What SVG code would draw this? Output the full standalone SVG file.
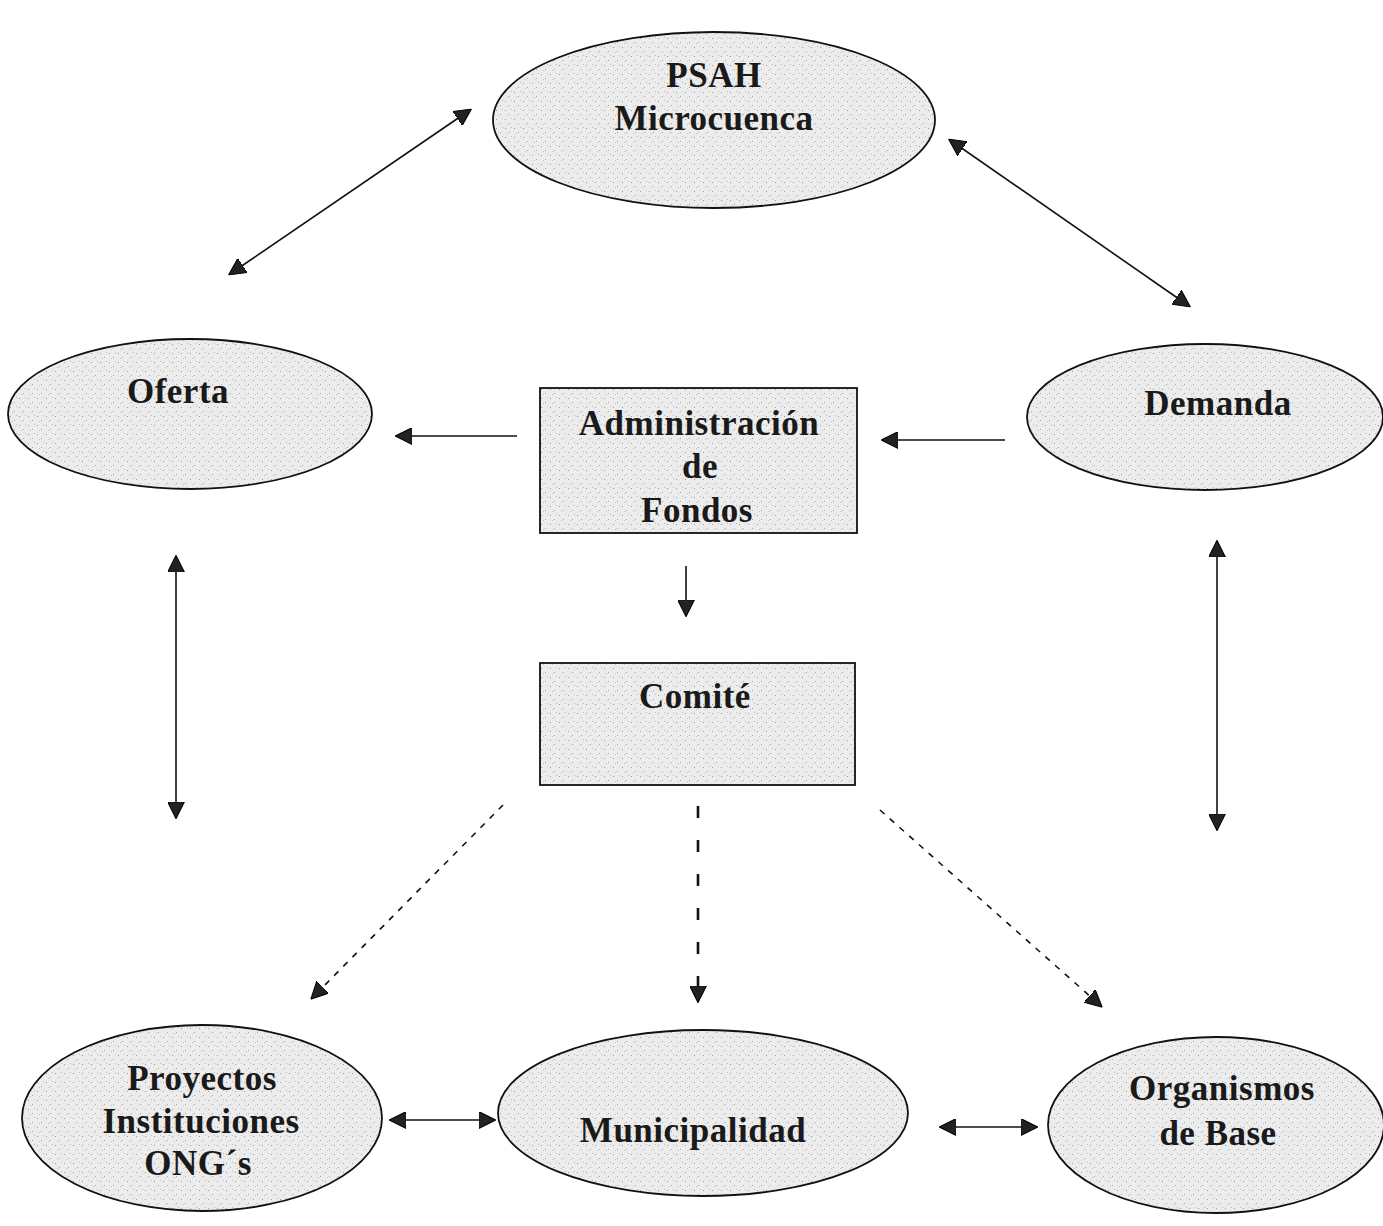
<svg xmlns="http://www.w3.org/2000/svg" width="1383" height="1226" viewBox="0 0 1383 1226">
<defs>
<pattern id="stip" width="9" height="9" patternUnits="userSpaceOnUse">
<rect width="9" height="9" fill="#ececec"/>
<rect x="1" y="2" width="1" height="1" fill="#9a9a9a"/>
<rect x="5" y="6" width="1" height="1" fill="#a8a8a8"/>
<rect x="7" y="1" width="1" height="1" fill="#bdbdbd"/>
<rect x="3" y="7" width="1" height="1" fill="#c4c4c4"/>
</pattern>
<marker id="ah" viewBox="0 0 10 10" refX="9" refY="5" markerWidth="17" markerHeight="17" markerUnits="userSpaceOnUse" orient="auto-start-reverse">
<path d="M0,0 L10,5 L0,10 Z" fill="#222" stroke="#000" stroke-width="0.6"/>
</marker>
</defs>
<style>
.node{fill:url(#stip);stroke:#111;stroke-width:1.8}
.lbl{font-family:"Liberation Serif","Times New Roman",serif;font-weight:bold;font-size:35px;fill:#1a1a1a;text-anchor:middle;letter-spacing:0.5px}
.c{stroke:#111;stroke-width:1.6;fill:none}
.d{stroke:#111;stroke-width:1.6;fill:none;stroke-dasharray:6 7}
.dm{stroke:#111;stroke-width:2.6;fill:none;stroke-dasharray:12 22}
</style>
<rect width="1383" height="1226" fill="#ffffff"/>
<g id="connectors">
<line class="c" x1="230" y1="274" x2="470" y2="110" marker-start="url(#ah)" marker-end="url(#ah)"/>
<line class="c" x1="950" y1="140" x2="1189" y2="306" marker-start="url(#ah)" marker-end="url(#ah)"/>
<line class="c" x1="517" y1="436" x2="397" y2="436" marker-end="url(#ah)"/>
<line class="c" x1="1005" y1="440" x2="883" y2="440" marker-end="url(#ah)"/>
<line class="c" x1="686" y1="566" x2="686" y2="615" marker-end="url(#ah)"/>
<line class="c" x1="176" y1="557" x2="176" y2="817" marker-start="url(#ah)" marker-end="url(#ah)"/>
<line class="c" x1="1217" y1="542" x2="1217" y2="829" marker-start="url(#ah)" marker-end="url(#ah)"/>
<line class="d" x1="503" y1="805" x2="312" y2="998" marker-end="url(#ah)"/>
<line class="dm" x1="698" y1="806" x2="698" y2="1001" marker-end="url(#ah)"/>
<line class="d" x1="880" y1="810" x2="1101" y2="1006" marker-end="url(#ah)"/>
<line class="c" x1="391" y1="1120" x2="494" y2="1120" marker-start="url(#ah)" marker-end="url(#ah)"/>
<line class="c" x1="941" y1="1127" x2="1036" y2="1127" marker-start="url(#ah)" marker-end="url(#ah)"/>
</g>
<g id="psah">
<ellipse class="node" cx="714" cy="120" rx="221" ry="88"/>
<text class="lbl" x="714" y="87">PSAH</text>
<text class="lbl" x="714" y="130">Microcuenca</text>
</g>
<g id="oferta">
<ellipse class="node" cx="190" cy="414" rx="182" ry="75"/>
<text class="lbl" x="178" y="403">Oferta</text>
</g>
<g id="demanda">
<ellipse class="node" cx="1205" cy="417" rx="178" ry="73"/>
<text class="lbl" x="1218" y="415">Demanda</text>
</g>
<g id="administracion">
<rect class="node" x="540" y="388" width="317" height="145"/>
<text class="lbl" x="699" y="435">Administración</text>
<text class="lbl" x="700" y="478">de</text>
<text class="lbl" x="697" y="522">Fondos</text>
</g>
<g id="comite">
<rect class="node" x="540" y="663" width="315" height="122"/>
<text class="lbl" x="695" y="708">Comité</text>
</g>
<g id="proyectos">
<ellipse class="node" cx="202" cy="1118" rx="180" ry="93"/>
<text class="lbl" x="202" y="1090">Proyectos</text>
<text class="lbl" x="201" y="1133">Instituciones</text>
<text class="lbl" x="198" y="1175">ONG´s</text>
</g>
<g id="municipalidad">
<ellipse class="node" cx="703" cy="1113" rx="205" ry="83"/>
<text class="lbl" x="693" y="1142">Municipalidad</text>
</g>
<g id="organismos">
<ellipse class="node" cx="1216" cy="1125" rx="168" ry="88"/>
<text class="lbl" x="1222" y="1100">Organismos</text>
<text class="lbl" x="1218" y="1145">de Base</text>
</g>
</svg>
